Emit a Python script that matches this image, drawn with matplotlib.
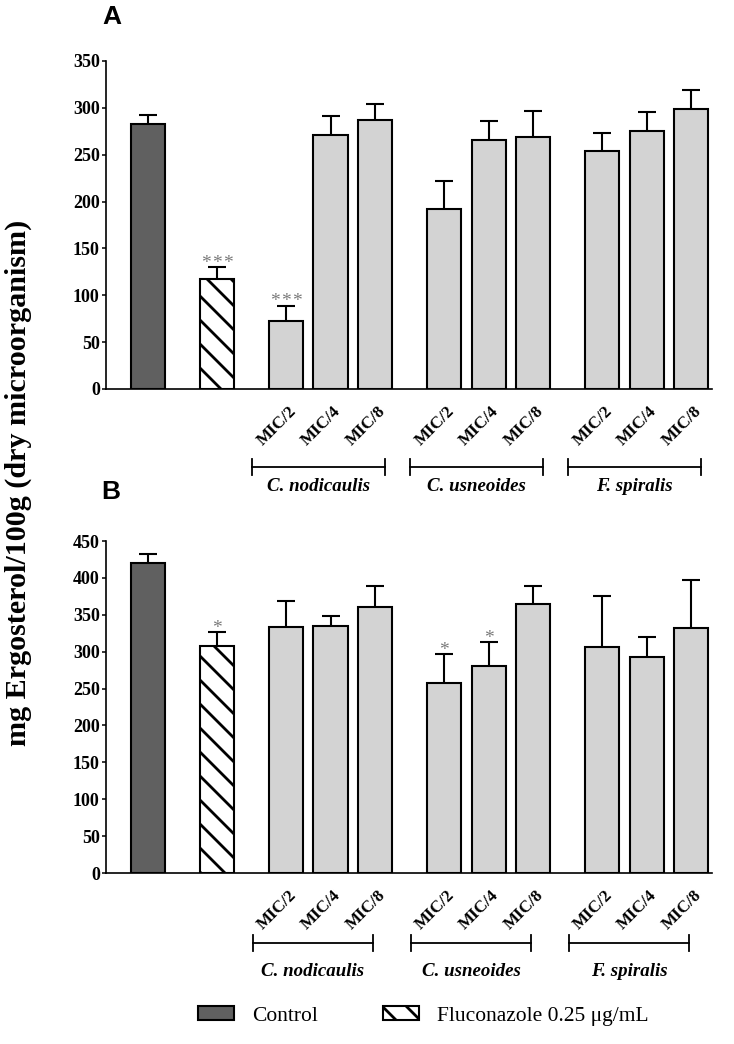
import matplotlib
matplotlib.use("Agg")
import matplotlib.pyplot as plt
from matplotlib.patches import Patch

# ---------------- data ----------------
conditions = ["Control", "Fluconazole 0.25 \u03bcg/mL"]
groups = ["C. nodicaulis", "C. usneoides", "F. spiralis"]
doses = ["MIC/2", "MIC/4", "MIC/8"]

# Panel A (order: Control, Fluconazole, nod x3, usn x3, spi x3)
values_A = [283, 117, 73, 271, 287, 192, 266, 269, 254, 275, 299]
errors_A = [9, 13, 16, 20, 17, 30, 20, 28, 19, 21, 20]
stars_A = [0, 3, 3, 0, 0, 0, 0, 0, 0, 0, 0]

# Panel B
values_B = [420, 308, 333, 335, 360, 257, 280, 365, 307, 293, 332]
errors_B = [12, 18, 35, 13, 29, 40, 33, 24, 69, 27, 65]
stars_B = [0, 1, 0, 0, 0, 1, 1, 0, 0, 0, 0]

yticks_A = [0, 50, 100, 150, 200, 250, 300, 350]
yticks_B = [0, 50, 100, 150, 200, 250, 300, 350, 400, 450]

# ---------------- style ----------------
DPI = 72
K = 100 / 72  # sizes below are given as "points at 100 dpi"
plt.rcParams["hatch.linewidth"] = 2.0 * K
SERIF = "Liberation Serif"
W, H = 734, 1044
fig = plt.figure(figsize=(W / DPI, H / DPI), dpi=DPI)

# positions (layout)
gap = 1.55
pos = [0.0, gap]
start = 2 * gap
for g in range(3):
    for d in range(3):
        pos.append(start + d)
    start += 2 + gap
bar_w = 0.765
xlim = (-0.944, 12.67)

colors = ["#606060", "white"] + ["#d3d3d3"] * 9
hatches = [None, "\\"] + [None] * 9


def panel(rect_px, values, errors, stars, yticks, ymax, bracket_off, bracket_rng):
    left, top, right, bottom = rect_px
    ax = fig.add_axes([left / W, 1 - bottom / H, (right - left) / W, (bottom - top) / H])
    ax_h = bottom - top
    ax.errorbar(pos, values, yerr=errors, fmt="none", ecolor="black",
                elinewidth=1.5 * K, capsize=6.2 * K, capthick=1.5 * K, zorder=1)
    for i, (p, v) in enumerate(zip(pos, values)):
        ax.bar(p, v, width=bar_w, color=colors[i], edgecolor="black",
               linewidth=1.5 * K, hatch=hatches[i], zorder=2)
    for p, v, e, n in zip(pos, values, errors, stars):
        for k in range(n):
            dx = (k - (n - 1) / 2) * 7.7  # points at 100 dpi (~10.7 px)
            ax.annotate("*", xy=(p, v + e), xytext=(dx * K, -3.5 * K),
                        textcoords="offset points", ha="center", va="bottom",
                        fontsize=14 * K, color="#7a7a7a", family=SERIF)
    ax.set_xlim(*xlim)
    ax.set_ylim(0, ymax)
    ax.set_yticks(yticks)
    ax.set_yticklabels([str(t) for t in yticks], fontsize=13 * K, fontweight="bold",
                       family=SERIF)
    ax.set_xticks([])
    ax.tick_params(axis="y", direction="out", length=3 * K, width=1.1 * K, pad=1.5 * K)
    for sp in ["top", "right"]:
        ax.spines[sp].set_visible(False)
    for sp in ["left", "bottom"]:
        ax.spines[sp].set_linewidth(1.2 * K)

    # dose labels
    for i in range(2, 11):
        ax.annotate(doses[(i - 2) % 3], xy=(pos[i], 0), xycoords=("data", "axes fraction"),
                    xytext=(1.5 * K, -10.5 * K), textcoords="offset points", rotation=45,
                    rotation_mode="anchor", ha="right", va="top", fontsize=12.3 * K,
                    fontweight="bold", family=SERIF)
    # brackets + group names
    tr = ax.get_xaxis_transform()
    yb = -bracket_off / ax_h
    tk = 8 / ax_h
    yt = -98 / ax_h
    for g in range(3):
        p0 = pos[2 + 3 * g] + bracket_rng[0]
        p1 = pos[4 + 3 * g] + bracket_rng[1]
        ax.plot([p0, p1], [yb, yb], color="black", lw=1.3 * K, transform=tr, clip_on=False)
        for px in (p0, p1):
            ax.plot([px, px], [yb - tk, yb + tk], color="black", lw=1.3 * K, transform=tr,
                    clip_on=False)
        ax.text((p0 + p1) / 2, yt, groups[g], transform=tr, ha="center", va="center",
                fontsize=13.6 * K, fontweight="bold", fontstyle="italic", family=SERIF)
    return ax


axA = panel((106, 61, 712, 389), values_A, errors_A, stars_A, yticks_A, 350, 78, (-0.76, 0.22))
axB = panel((106, 541, 712, 873), values_B, errors_B, stars_B, yticks_B, 450, 70, (-0.74, -0.05))

fig.text(112 / W, 1 - 17.5 / H, "A", ha="center", va="center", fontsize=19 * K,
         fontweight="bold", family="Liberation Sans")
fig.text(111 / W, 1 - 492 / H, "B", ha="center", va="center", fontsize=19 * K,
         fontweight="bold", family="Liberation Sans")

fig.text(18 / W, 1 - 483 / H, "mg Ergosterol/100g (dry microorganism)", rotation=90,
         ha="center", va="center", fontsize=21.7 * K, fontweight="bold", family=SERIF)

handles = [Patch(facecolor="#606060", edgecolor="black", linewidth=1.5 * K),
           Patch(facecolor="white", edgecolor="black", linewidth=1.5 * K, hatch="\\")]
fig.legend(handles, conditions, loc="center", bbox_to_anchor=(423.5 / W, 1 - 1016 / H),
           ncol=2, frameon=False, prop={"family": SERIF, "size": 15.5 * K},
           handlelength=1.68, handleheight=0.56, handletextpad=0.85, columnspacing=3.0,
           borderpad=0, borderaxespad=0)

fig.savefig("out.png", dpi=DPI)
